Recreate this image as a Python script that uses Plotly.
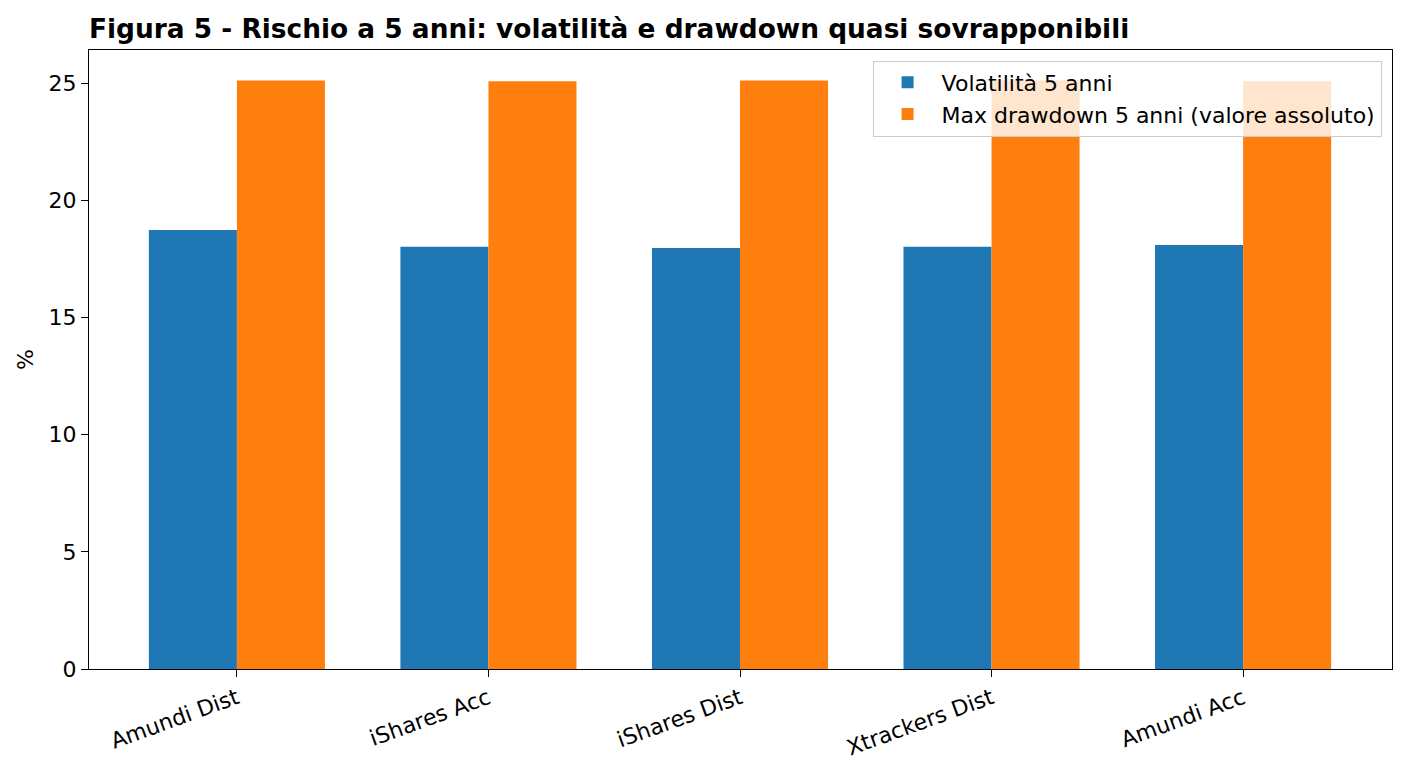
import plotly.graph_objects as go

categories = ["Amundi Dist", "iShares Acc", "iShares Dist", "Xtrackers Dist", "Amundi Acc"]
volatility = [18.74, 18.02, 17.97, 18.02, 18.10]
max_drawdown = [25.12, 25.09, 25.12, 25.13, 25.09]
series_names = ["Volatilità 5 anni", "Max drawdown 5 anni (valore assoluto)"]
title_text = "Figura 5 - Rischio a 5 anni: volatilità e drawdown quasi sovrapponibili"
y_ticks = [0, 5, 10, 15, 20, 25]

FONT = "DejaVu Sans"
FS = 22

fig = go.Figure()
fig.add_trace(go.Bar(x=categories, y=volatility, name=series_names[0],
                     marker=dict(color="#1f77b4", line=dict(width=0))))
fig.add_trace(go.Bar(x=categories, y=max_drawdown, name=series_names[1],
                     marker=dict(color="#ff7f0e", line=dict(width=0))))

fig.update_layout(
    width=1411, height=776,
    barmode="group", bargap=0.3, bargroupgap=0,
    paper_bgcolor="white", plot_bgcolor="white",
    margin=dict(l=89, r=19, t=50, b=107),
    font=dict(family=FONT, size=FS, color="black"),
    title=dict(text="<b>" + title_text + "</b>", x=89/1411, xanchor="left",
               y=1 - 29/776, yanchor="middle", xref="container", yref="container",
               font=dict(family=FONT, size=26.4, color="black")),
    legend=dict(x=0.992, xanchor="right", y=0.983, yanchor="top",
                bgcolor="rgba(255,255,255,0.8)", bordercolor="#cccccc", borderwidth=1,
                font=dict(family=FONT, size=FS), tracegroupgap=0, itemwidth=58),
    showlegend=True,
)
fig.update_xaxes(range=[-0.588, 4.592], showline=True, linecolor="black", linewidth=1.2,
                 mirror=True, ticks="outside", ticklen=7, tickwidth=1.2, tickcolor="black",
                 tickangle=-20, showgrid=False, tickfont=dict(size=FS))
fig.update_yaxes(range=[0, 26.42], tickvals=y_ticks, showline=True, linecolor="black",
                 linewidth=1.2, mirror=True, ticks="outside", ticklen=7, tickwidth=1.2,
                 tickcolor="black", showgrid=False, zeroline=False,
                 title=dict(text="%", standoff=8, font=dict(size=FS)), tickfont=dict(size=FS))

fig.write_html("out.html")
